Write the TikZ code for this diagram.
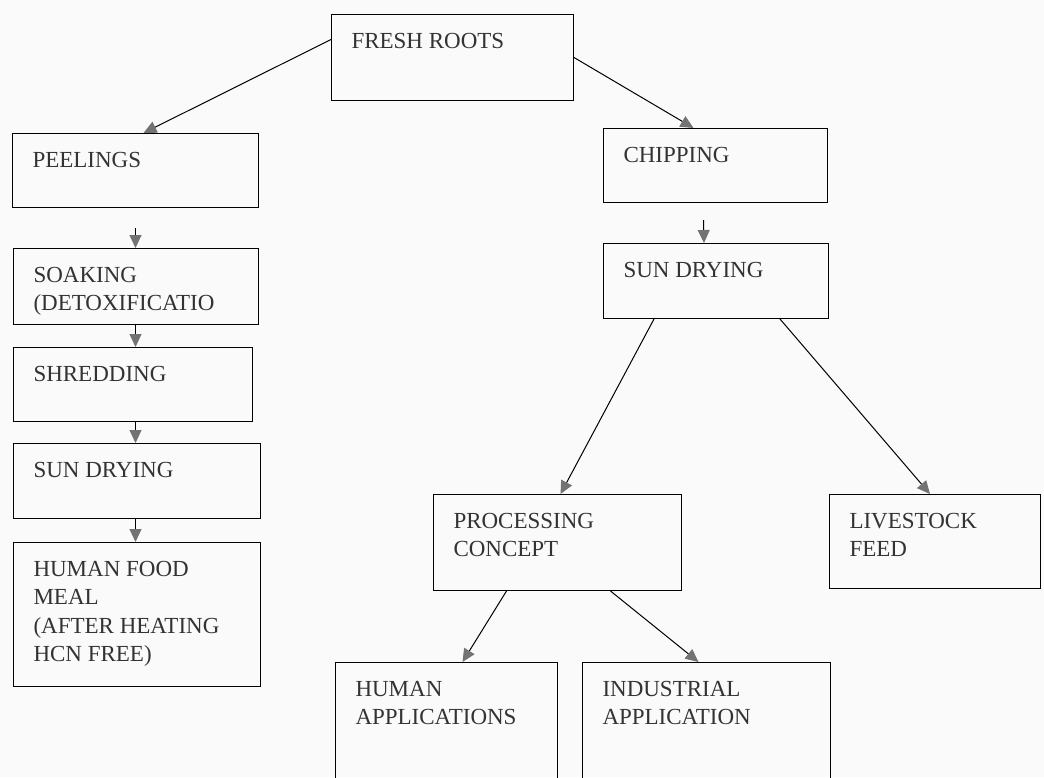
\documentclass[tikz,border=0pt]{standalone}
\usepackage{fontspec}
\setmainfont{Liberation Serif}
\usetikzlibrary{arrows.meta}
% text block of a stage: width, height, lines
\newcommand{\stagetxt}[3]{\parbox[t][#2pt][t]{#1pt}{\raggedright\strut #3}}
\begin{document}
\begin{tikzpicture}[x=1pt, y=-1pt, >={Triangle[length=13pt, width=12pt, color=black!55]}, line width=1pt,
		every node/.style={font=\fontsize{23}{28.5}\selectfont, text=black!80},
		stage/.style={draw, anchor=north west, inner xsep=20pt, inner ysep=14pt}]
	\useasboundingbox[fill=black!2] (0,0) rectangle (1044,777);
	
	% top
	\node[stage] (fresh) at (331,14) {\stagetxt{202}{58}{FRESH ROOTS}};
	
	% left branch
	\node[stage] (peel) at (12,133) {\stagetxt{206}{46}{PEELINGS}};
	\node[stage] (soak) at (13,248) {\stagetxt{205}{48}{SOAKING\\(DETOXIFICATIO}};
	\node[stage] (shred) at (13,347) {\stagetxt{199}{46}{SHREDDING}};
	\node[stage] (dryl) at (13,443) {\stagetxt{207}{47}{SUN DRYING}};
	\node[stage] (food) at (13,542) {\stagetxt{207}{116}{HUMAN FOOD\\MEAL\\(AFTER HEATING\\HCN FREE)}};
	
	% right branch
	\node[stage] (chip) at (603,128) {\stagetxt{184}{46}{CHIPPING}};
	\node[stage] (dryr) at (603,243) {\stagetxt{185}{47}{SUN DRYING}};
	\node[stage] (proc) at (433,494) {\stagetxt{208}{68}{PROCESSING\\CONCEPT}};
	\node[stage] (live) at (829,494) {\stagetxt{171}{66}{LIVESTOCK\\FEED}};
	\node[stage] (human) at (335,662) {\stagetxt{182}{112}{HUMAN\\APPLICATIONS}};
	\node[stage] (ind) at (582,662) {\stagetxt{208}{112}{INDUSTRIAL\\APPLICATION}};
	
	% arrows
	\draw[->] ([yshift=18pt]fresh.west) -- ([xshift=8pt]peel.north);
	\draw[->] (fresh.east) -- ([xshift=-22pt]chip.north);
	\draw[->] ([yshift=-20pt]peel.south) -- (peel.south |- soak.north);
	\draw[->] (peel.south |- soak.south) -- (peel.south |- shred.north);
	\draw[->] (peel.south |- shred.south) -- (peel.south |- dryl.north);
	\draw[->] (peel.south |- dryl.south) -- (peel.south |- food.north);
	\draw[->] ([xshift=-12pt, yshift=-17pt]chip.south) -- ([xshift=-12pt]dryr.north);
	\draw[->] ([xshift=-62pt]dryr.south) -- ([xshift=3pt]proc.north);
	\draw[->] ([xshift=64pt]dryr.south) -- ([xshift=-5pt]live.north);
	\draw[->] ([xshift=-51pt]proc.south) -- ([xshift=16pt]human.north);
	\draw[->] ([xshift=53pt]proc.south) -- ([xshift=-8pt]ind.north);
\end{tikzpicture}
\end{document}
